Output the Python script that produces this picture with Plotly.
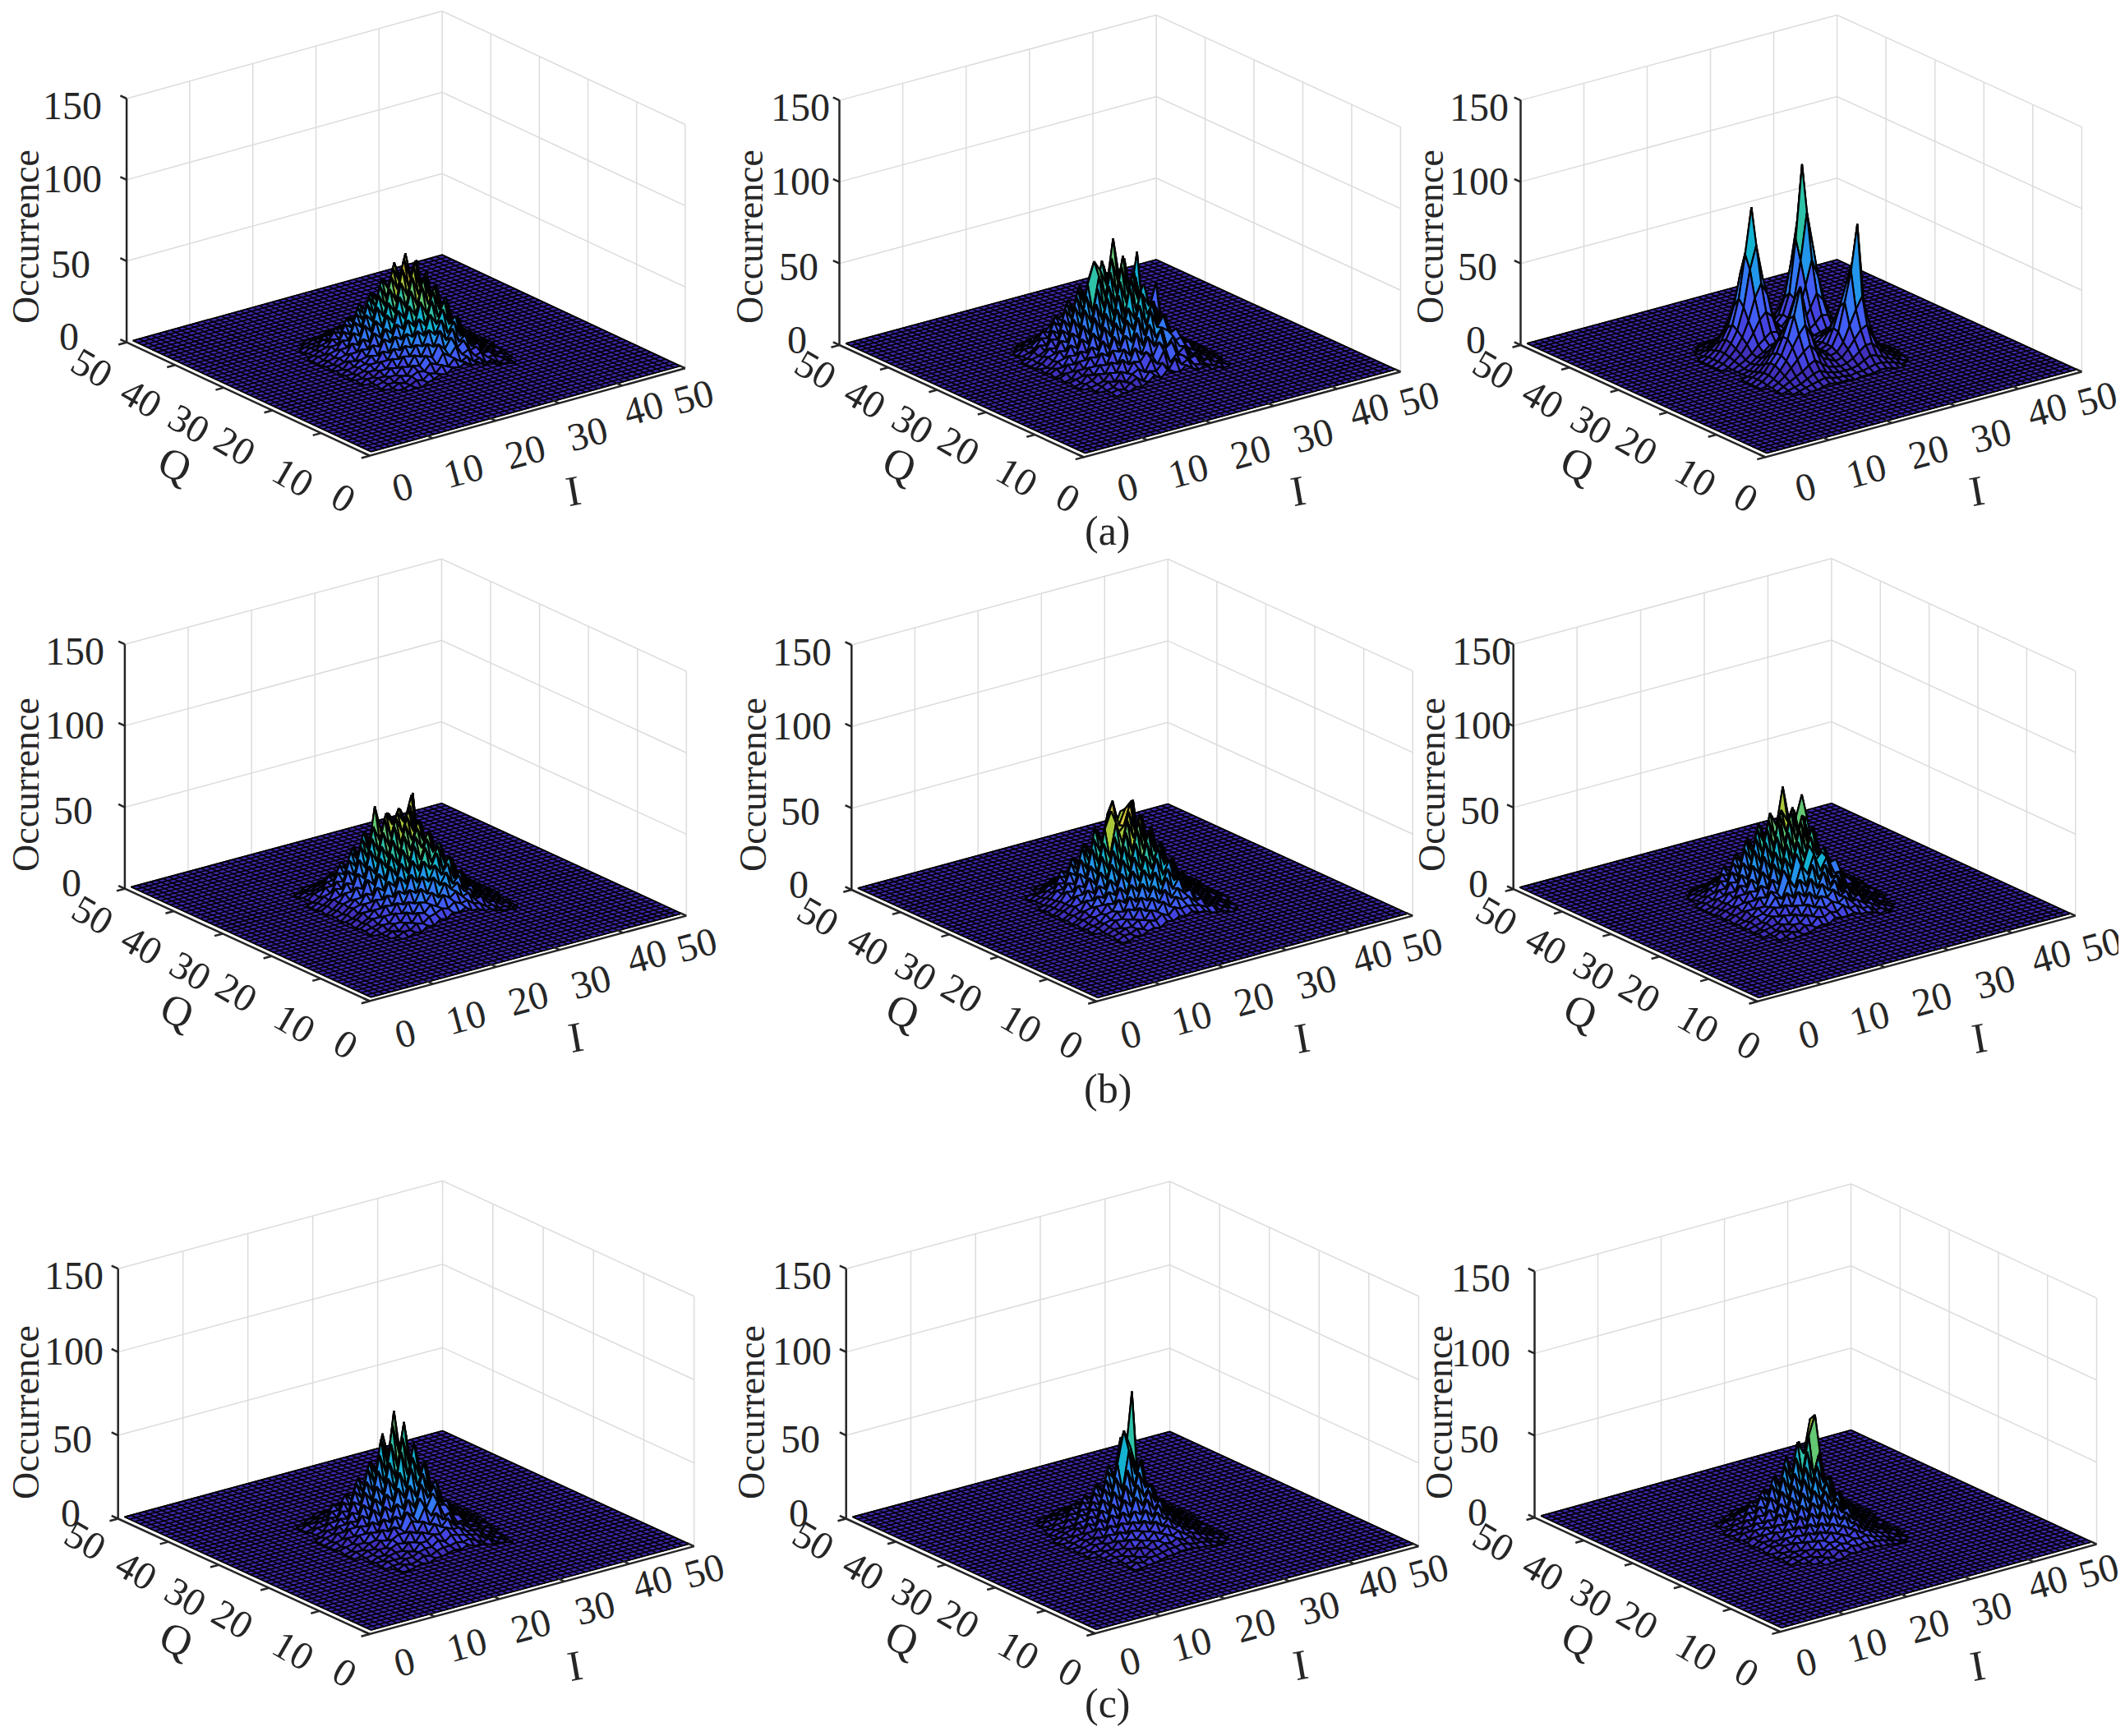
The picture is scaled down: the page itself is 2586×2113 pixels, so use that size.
import numpy as np
import plotly.graph_objects as go

# occurrence counts, rows are Q=14..36, columns are I=14..36
# everything outside that patch sits on the floor at about 0
z_a1 = [
[0,1,1,2,3,2,4,5,7,6,9,8,10,7,8,5,6,3,3,2,1,1,0],
[1,1,2,2,3,5,4,7,6,10,8,12,9,11,7,8,4,5,2,3,1,1,0],
[1,2,2,4,3,6,8,7,11,9,15,12,17,11,13,8,9,5,5,3,2,1,1],
[1,1,3,3,6,5,10,9,14,12,19,15,21,14,17,10,11,6,6,3,3,1,1],
[1,2,3,5,5,9,8,14,12,19,16,25,18,24,15,18,10,11,5,5,2,2,1],
[2,2,4,4,8,7,13,12,18,16,25,21,29,20,26,16,17,9,10,4,4,2,1],
[1,3,3,6,6,11,10,17,15,24,20,32,25,33,23,27,15,16,8,8,3,2,1],
[2,2,5,5,9,9,15,13,22,19,29,24,38,27,36,22,24,13,13,6,5,2,1],
[1,3,4,7,7,13,11,20,17,28,23,37,28,41,29,36,20,21,10,10,4,3,1],
[2,2,5,6,10,9,18,15,25,21,34,27,44,32,42,27,31,16,15,7,7,2,1],
[1,3,4,7,8,14,12,22,18,31,25,41,31,47,34,41,24,25,12,11,5,3,1],
[2,2,6,5,11,10,19,15,28,22,37,29,47,35,46,31,35,19,18,8,7,2,1],
[1,3,4,8,8,15,12,24,19,33,26,43,34,51,37,46,27,29,14,13,5,3,1],
[2,2,5,6,12,10,21,16,30,23,39,30,49,37,52,34,39,21,20,9,8,2,1],
[1,3,4,8,8,16,13,25,20,35,27,44,35,53,40,50,30,31,15,13,6,3,1],
[1,2,5,6,11,10,20,16,29,22,38,29,47,38,54,36,40,22,21,9,8,3,1],
[1,3,3,7,7,14,11,23,18,31,24,40,33,48,36,46,28,28,14,12,5,3,1],
[1,2,4,5,9,8,16,13,24,19,31,25,38,30,40,28,31,16,15,7,6,2,1],
[1,2,3,5,6,11,9,17,14,24,19,29,24,32,24,28,17,18,9,8,3,2,1],
[1,1,3,3,6,5,11,9,15,12,20,16,24,18,23,15,15,8,8,4,3,1,1],
[0,1,2,3,3,6,5,9,8,13,10,16,12,16,11,12,7,7,3,3,1,1,0],
[0,1,1,2,3,3,5,4,7,6,10,8,11,8,9,6,6,3,3,1,1,1,0],
[0,0,1,1,2,2,2,4,3,5,5,6,5,6,4,4,2,3,1,1,1,0,0],
]
z_a2 = [
[0,1,1,2,2,4,3,5,8,5,9,7,6,9,6,4,6,2,3,1,2,0,0],
[1,1,2,3,2,5,7,4,9,8,12,7,13,8,10,6,5,4,2,3,1,1,0],
[1,2,2,3,6,4,8,10,7,14,10,17,9,13,11,8,9,4,5,2,2,1,0],
[1,1,3,5,4,9,7,13,12,17,13,21,16,19,11,14,7,8,3,4,2,1,1],
[2,2,3,4,8,7,14,10,19,14,24,17,26,15,20,13,12,6,7,3,3,1,0],
[1,3,4,7,6,12,10,18,13,26,17,29,20,25,22,15,16,9,6,5,2,2,1],
[1,2,6,5,10,9,17,15,24,19,33,21,35,24,30,18,20,10,10,4,4,1,1],
[2,3,4,8,8,15,12,23,16,31,24,38,25,37,23,28,15,15,7,7,3,2,0],
[1,2,6,6,12,11,20,14,29,21,36,28,44,29,36,22,23,11,11,4,5,2,1],
[2,4,4,9,9,16,13,26,19,35,25,46,31,40,32,30,17,18,8,8,3,2,1],
[1,2,7,6,13,11,22,16,32,23,41,27,49,36,44,25,27,13,12,5,5,1,1],
[2,4,4,10,9,18,14,29,20,39,27,47,33,50,35,38,21,21,9,9,3,2,0],
[1,3,6,7,14,11,24,17,35,24,44,31,54,37,48,28,31,14,14,5,6,2,1],
[2,2,5,10,9,19,15,31,22,42,29,50,36,58,38,43,24,24,10,10,4,2,1],
[1,3,6,7,14,12,25,18,37,26,47,33,56,40,54,30,56,16,20,34,6,2,1],
[1,2,5,9,8,18,14,30,22,42,55,48,38,66,40,45,26,25,11,10,4,2,1],
[1,3,4,6,12,11,22,16,34,24,44,31,52,38,50,30,33,16,15,6,6,2,1],
[1,2,5,8,7,15,12,26,19,36,26,44,33,47,32,38,22,22,9,9,3,2,0],
[1,2,3,5,10,9,18,14,27,20,36,25,41,28,35,24,25,12,11,5,4,1,1],
[0,1,4,4,7,12,10,19,15,27,19,32,23,31,20,24,13,13,7,6,2,2,0],
[0,1,2,4,4,8,9,12,14,17,15,22,17,21,13,14,9,7,4,3,2,1,0],
[0,1,1,2,4,3,6,7,8,11,8,13,10,12,8,8,4,5,2,2,1,0,0],
[0,0,1,1,1,3,3,3,5,5,7,6,7,5,5,3,3,2,1,1,0,0,0],
]
z_a3 = [
[0,0,1,1,2,2,3,4,3,3,3,2,3,3,3,4,4,3,2,2,1,0,0],
[0,1,1,2,3,4,5,6,5,4,4,3,4,4,5,6,6,5,4,2,2,1,0],
[0,1,2,3,4,6,8,9,7,6,5,5,5,6,8,10,9,7,5,4,2,1,1],
[1,1,3,5,7,9,12,14,11,8,7,6,7,9,12,15,15,11,7,5,3,2,1],
[1,2,4,7,11,15,19,22,17,12,10,8,9,13,18,23,25,16,10,6,4,2,1],
[1,2,5,9,14,21,28,33,25,16,12,10,11,16,25,34,41,25,13,8,5,2,1],
[1,3,6,11,16,25,38,55,36,20,13,11,13,21,38,56,84,36,15,9,5,3,1],
[1,3,6,11,16,25,35,47,33,21,14,11,13,22,34,47,60,33,15,9,5,3,1],
[1,3,5,9,14,21,28,34,27,18,13,11,13,18,26,34,39,24,13,7,4,2,1],
[1,2,4,7,11,16,21,24,20,15,12,10,12,15,19,24,25,18,11,6,3,2,1],
[0,2,3,6,9,12,15,17,15,13,11,10,11,13,15,17,18,13,9,5,3,1,0],
[0,2,3,5,8,10,13,14,13,11,10,10,11,12,13,14,14,11,8,4,3,1,0],
[1,2,4,6,9,13,16,19,18,14,11,11,12,14,17,21,20,15,9,5,3,2,1],
[1,2,5,8,13,19,26,30,26,17,12,12,14,18,25,33,28,19,11,6,4,2,1],
[1,3,6,10,16,25,38,46,38,22,14,13,16,23,37,52,41,25,13,7,4,2,1],
[1,3,7,12,19,32,54,68,47,25,16,14,18,29,51,80,57,30,15,8,5,2,1],
[1,3,7,13,21,36,62,90,53,27,17,15,19,31,63,108,65,33,16,9,5,3,1],
[1,3,6,11,18,30,49,64,43,23,15,13,17,27,47,72,51,27,14,7,4,2,1],
[1,2,5,8,13,21,31,37,29,18,12,11,14,20,28,39,31,19,10,6,3,2,1],
[1,2,3,5,9,13,17,21,18,12,9,8,10,13,16,20,17,11,7,4,2,1,0],
[0,1,2,3,5,7,9,11,9,7,6,5,6,8,9,11,9,6,4,2,1,1,0],
[0,1,1,2,3,4,5,6,5,4,3,3,4,4,5,6,5,3,2,1,1,0,0],
[0,0,1,1,1,2,2,3,3,2,2,2,2,2,3,3,2,2,1,1,0,0,0],
]
z_b1 = [
[1,1,2,2,4,3,6,5,8,7,10,9,11,8,8,6,6,4,3,3,1,1,0],
[1,2,2,4,4,7,6,9,10,12,11,14,12,13,10,9,6,6,3,3,2,1,1],
[1,2,4,3,7,6,11,10,14,12,18,15,18,14,15,10,11,6,6,3,3,1,1],
[2,2,3,6,6,11,9,15,14,19,15,23,18,21,15,15,9,10,5,5,2,2,1],
[1,3,5,5,10,9,15,13,21,17,26,20,27,19,23,14,15,8,8,4,4,1,1],
[2,3,4,8,8,14,12,20,17,26,22,31,24,30,20,23,13,14,7,7,3,2,1],
[2,4,6,6,12,11,19,16,27,21,33,27,36,25,32,19,21,11,11,5,5,2,1],
[1,3,5,9,9,16,14,25,20,33,26,39,29,38,27,29,17,17,9,8,3,3,1],
[2,4,7,7,13,12,22,18,31,24,40,30,42,33,38,24,26,13,13,6,6,2,1],
[2,3,5,10,10,18,15,29,22,37,28,43,35,44,31,34,20,21,10,10,4,3,1],
[1,4,7,8,14,12,24,19,34,26,43,33,46,37,42,27,29,15,15,7,7,2,1],
[2,3,6,10,10,20,16,31,24,40,30,47,37,48,35,38,23,23,11,11,4,3,1],
[2,4,7,8,15,13,26,20,36,28,46,34,50,40,46,29,31,16,16,7,7,2,1],
[1,3,6,11,11,21,17,33,25,42,32,49,39,52,37,42,24,25,12,11,4,3,1],
[2,4,7,8,15,13,27,21,38,29,48,36,50,43,52,32,34,17,17,8,7,2,1],
[1,3,5,11,10,20,16,33,25,43,33,49,41,50,42,56,26,26,12,11,4,3,1],
[1,3,6,7,13,12,24,19,35,27,53,36,47,39,47,36,55,16,15,7,6,2,1],
[1,2,4,9,9,16,14,27,21,37,26,44,33,44,31,36,24,22,10,9,4,2,1],
[1,2,5,6,10,10,18,15,27,20,35,26,37,27,33,23,24,13,12,5,5,2,0],
[1,2,3,5,6,11,10,18,14,25,18,29,21,27,19,22,13,13,7,6,3,1,1],
[0,1,3,3,5,6,10,9,14,12,18,14,19,15,15,12,11,7,6,3,2,1,0],
[0,1,1,2,3,4,5,8,7,10,9,11,10,10,8,8,5,5,3,2,1,1,0],
[0,0,1,1,2,2,3,3,5,4,6,5,6,5,4,4,3,2,2,1,1,0,0],
]
z_b2 = [
[0,1,1,3,2,4,5,4,7,6,8,7,9,7,7,5,4,4,2,2,1,0,0],
[1,1,3,3,5,4,8,7,10,8,12,10,11,10,9,7,7,3,4,2,1,1,0],
[1,2,3,5,5,8,7,12,10,15,11,16,13,14,10,11,6,6,3,3,2,1,0],
[1,2,4,4,8,7,13,10,17,13,20,14,19,15,16,9,10,5,5,3,2,1,1],
[2,2,4,7,7,12,10,17,14,22,16,25,17,23,14,15,9,9,4,4,2,1,1],
[1,3,5,6,10,9,17,13,23,17,28,19,28,20,22,13,14,7,8,3,3,2,1],
[2,3,4,8,9,15,12,22,17,29,22,34,23,31,19,21,12,12,6,6,3,2,1],
[1,3,6,7,12,11,20,15,28,21,35,26,38,27,29,18,19,10,10,5,4,2,1],
[2,4,5,10,10,17,14,26,20,34,25,41,29,38,25,27,15,15,8,8,3,2,1],
[1,3,7,8,14,12,22,17,32,24,40,28,45,32,37,22,24,12,12,6,5,2,1],
[2,4,5,11,10,18,15,29,21,38,27,46,33,44,29,33,18,19,9,9,3,2,1],
[1,3,7,8,15,12,24,18,35,25,44,31,49,35,44,26,28,14,14,6,6,2,1],
[2,4,6,11,11,20,15,31,22,41,29,49,37,50,33,38,21,22,10,10,4,3,1],
[1,3,6,8,15,13,25,19,37,27,47,34,52,39,48,29,32,15,15,7,6,2,1],
[2,3,6,11,10,20,16,33,23,43,53,38,42,55,36,43,23,24,11,10,4,2,1],
[1,3,5,8,14,12,26,19,37,28,45,57,41,50,54,30,33,16,14,7,6,2,1],
[1,2,5,9,9,18,15,31,22,41,30,48,37,47,33,52,23,22,10,9,4,2,1],
[1,2,4,6,11,10,21,16,31,23,38,28,43,31,37,25,26,13,12,6,5,2,0],
[1,2,3,6,7,13,11,22,16,29,21,34,25,32,22,25,15,15,8,7,3,2,0],
[0,1,3,4,7,7,14,11,20,15,25,18,25,18,20,13,13,8,7,4,3,1,0],
[0,1,2,2,4,6,6,11,9,14,11,16,13,15,11,11,7,6,4,3,2,1,0],
[0,1,1,2,2,3,5,5,8,7,10,8,9,8,7,6,4,4,2,2,1,0,0],
[0,0,1,1,1,2,2,4,3,5,4,6,5,5,4,3,3,2,1,1,0,0,0],
]
z_b3 = [
[0,1,2,2,3,3,5,6,5,8,7,7,8,6,6,5,3,4,2,1,1,1,0],
[1,1,2,4,3,6,5,9,8,10,9,12,9,10,7,7,4,4,2,2,1,0,0],
[1,2,4,3,6,6,10,8,13,11,14,12,15,11,11,8,7,4,4,2,2,1,0],
[1,2,3,6,5,10,8,14,11,17,15,19,14,16,10,12,6,7,3,3,1,1,0],
[2,3,4,5,9,8,13,12,19,14,22,17,22,14,16,10,10,5,5,2,2,1,1],
[1,2,5,8,7,13,11,19,15,25,18,27,18,23,13,14,8,9,4,4,2,2,0],
[2,3,4,7,11,10,18,14,24,19,31,21,29,20,20,12,13,7,7,3,3,1,1],
[1,4,6,7,10,15,13,23,18,30,24,35,24,31,18,20,11,11,5,5,2,2,1],
[2,3,5,9,9,17,15,28,21,36,27,39,29,33,26,18,18,9,9,4,4,2,0],
[1,3,7,7,13,12,22,18,33,25,41,30,42,30,33,23,24,13,10,7,3,2,1],
[2,4,5,10,10,18,15,29,21,39,28,46,33,45,27,31,17,18,10,8,5,2,1],
[1,3,7,8,14,13,24,18,34,25,44,32,48,35,43,23,26,13,14,6,6,2,1],
[2,4,5,11,11,19,15,31,22,41,29,49,36,50,31,38,20,21,11,11,4,3,1],
[1,3,6,8,15,13,25,19,37,26,48,33,52,38,47,27,30,15,15,8,6,2,1],
[1,3,5,10,10,19,15,32,23,43,30,49,38,52,34,40,27,24,12,11,4,3,1],
[1,2,6,7,14,13,24,18,37,27,46,34,50,42,48,30,42,16,15,8,6,2,1],
[1,3,4,9,9,18,14,30,22,40,31,48,39,62,40,40,54,22,11,9,4,2,1],
[1,2,5,6,12,11,21,16,33,24,41,30,44,33,46,26,28,15,14,7,5,2,1],
[1,2,3,7,8,14,12,23,18,32,24,37,27,36,25,29,17,17,9,7,3,2,0],
[0,1,3,4,8,8,16,12,22,17,27,20,28,20,22,14,15,8,8,4,3,1,0],
[0,1,2,3,4,7,7,12,10,16,12,18,14,16,11,12,7,7,4,3,2,1,0],
[0,1,1,2,3,3,6,5,8,8,10,9,10,9,8,6,5,4,2,2,1,0,0],
[0,0,1,1,1,2,2,4,4,5,4,6,5,5,4,4,2,2,1,1,1,0,0],
]
z_c1 = [
[0,1,1,1,2,3,2,4,4,5,6,5,7,5,5,4,3,3,2,1,1,0,0],
[0,1,1,3,2,3,5,4,6,7,7,8,7,8,6,4,5,2,3,1,1,1,0],
[1,1,2,2,4,4,6,7,7,10,8,11,10,9,8,7,4,4,2,2,1,0,0],
[1,1,3,3,3,6,5,9,9,12,11,14,12,12,9,8,7,3,3,2,1,1,0],
[1,2,2,4,5,5,9,8,13,11,16,13,17,12,12,9,6,6,3,2,2,1,0],
[1,1,3,3,6,8,7,13,11,17,14,20,15,18,10,11,6,6,3,3,1,1,0],
[1,2,3,5,5,9,11,11,17,15,23,17,24,15,16,9,9,5,5,2,2,1,0],
[1,2,4,4,8,7,14,12,21,17,27,20,28,20,19,12,11,6,5,3,2,1,1],
[1,3,3,6,7,12,10,18,15,26,20,33,24,30,19,19,9,9,4,4,2,1,0],
[1,2,5,5,10,9,16,13,23,19,32,24,37,25,31,16,16,7,7,3,3,1,0],
[2,3,4,8,8,14,11,21,17,30,23,40,28,41,24,27,12,12,5,5,2,2,1],
[1,2,6,6,11,10,19,14,26,21,37,27,44,32,39,20,21,9,9,4,3,1,0],
[1,3,4,9,9,15,12,23,18,33,25,47,32,50,29,33,15,15,6,6,2,2,1],
[1,2,6,6,11,10,19,15,28,22,40,29,53,36,46,23,25,10,10,4,3,1,0],
[1,3,4,8,8,14,12,24,18,35,26,49,34,60,34,38,17,17,7,6,2,2,0],
[1,2,5,5,10,9,18,15,28,21,42,30,58,40,52,25,27,11,10,4,3,1,0],
[1,2,3,7,7,12,11,22,17,33,24,49,33,64,36,37,18,17,7,6,2,1,0],
[0,2,4,4,8,7,15,12,24,18,35,26,50,34,42,22,22,9,8,4,3,1,0],
[1,1,2,5,5,9,9,17,13,25,19,33,24,36,22,24,12,11,5,4,2,1,0],
[0,1,3,3,5,5,11,9,15,13,21,16,21,16,15,10,10,6,5,3,2,1,0],
[0,1,1,2,3,5,5,8,8,12,10,13,10,11,7,7,4,4,3,2,1,0,0],
[0,0,1,1,2,2,3,4,5,6,6,7,6,5,4,4,3,2,1,1,1,0,0],
[0,0,0,1,1,1,2,2,2,3,3,4,3,3,2,2,1,1,1,0,0,0,0],
]
z_c2 = [
[0,0,1,1,1,2,2,3,4,4,5,5,5,4,4,3,3,2,1,1,0,0,0],
[0,1,1,1,3,2,4,4,5,6,6,7,6,5,5,4,3,2,2,1,1,0,0],
[0,1,1,2,2,4,3,6,6,8,7,9,7,8,5,5,3,3,2,1,1,0,0],
[1,1,2,2,4,3,7,6,9,8,11,9,11,8,8,6,5,3,3,1,1,1,0],
[1,1,2,3,3,6,5,9,8,12,10,14,11,12,8,8,4,4,2,2,1,0,0],
[1,1,2,3,5,5,9,8,12,11,16,12,16,11,11,7,6,3,3,1,1,1,0],
[1,2,2,4,4,8,7,12,11,16,13,19,14,16,10,10,5,5,2,2,1,0,0],
[1,1,3,3,6,6,11,9,15,13,20,15,21,14,15,9,8,4,3,2,1,1,0],
[1,2,2,5,5,9,8,14,12,19,16,24,17,22,13,13,7,6,3,2,1,1,0],
[1,1,3,4,7,6,12,10,18,14,25,19,27,19,20,11,10,5,4,2,2,1,0],
[1,2,2,5,5,10,8,16,13,23,18,30,22,28,16,16,8,7,3,3,1,1,0],
[1,1,3,4,7,7,13,10,20,15,29,21,35,25,26,13,13,6,5,2,2,1,0],
[0,2,2,5,5,10,8,16,13,25,18,36,25,39,21,22,10,9,4,3,1,1,0],
[1,1,3,3,7,6,12,10,20,15,31,22,45,30,38,16,16,7,6,2,2,1,0],
[0,1,2,4,5,8,8,14,12,24,18,37,56,45,30,26,11,10,4,3,1,1,0],
[0,1,2,3,5,5,10,9,16,13,27,20,44,38,76,18,16,7,6,2,2,0,0],
[0,1,1,3,3,7,6,11,10,19,15,30,24,48,30,24,10,9,4,3,1,1,0],
[0,1,2,2,4,4,8,7,13,11,21,16,31,22,26,13,12,6,5,2,2,0,0],
[0,0,1,2,2,5,5,9,8,14,11,19,14,18,12,11,6,6,3,2,1,1,0],
[0,1,1,1,3,3,5,5,9,8,12,9,13,9,9,6,6,3,3,1,1,0,0],
[0,0,1,1,1,3,3,5,4,7,6,8,6,7,5,4,3,3,2,1,0,0,0],
[0,0,0,1,1,1,2,2,4,3,5,4,5,3,3,3,2,1,1,1,0,0,0],
[0,0,0,0,1,1,1,1,2,2,2,3,2,2,2,1,1,1,0,0,0,0,0],
]
z_c3 = [
[0,0,1,1,2,2,3,3,5,4,5,5,5,4,4,3,3,2,1,1,0,0,0],
[0,1,1,2,2,4,3,6,5,7,6,7,6,6,5,4,3,2,2,1,1,0,0],
[0,1,2,2,4,3,6,6,8,7,9,8,9,7,6,5,3,3,2,1,1,0,0],
[1,1,2,3,3,6,5,8,8,11,9,12,9,10,7,6,5,3,2,2,1,1,0],
[1,1,3,3,5,5,9,8,12,10,14,11,13,9,9,6,6,3,3,1,1,0,0],
[1,2,2,4,4,8,7,12,10,15,12,17,12,13,8,8,5,4,2,2,1,1,0],
[1,1,3,3,7,6,11,9,15,12,19,14,17,12,12,7,7,3,3,1,1,0,0],
[1,2,2,5,5,9,8,14,11,19,14,22,16,18,10,10,5,5,2,2,1,1,0],
[1,1,4,4,7,7,12,10,18,14,24,17,23,15,15,9,8,4,3,2,1,0,0],
[1,2,3,5,5,10,9,16,12,22,17,27,19,24,13,14,6,6,3,2,1,1,0],
[1,2,4,4,8,7,13,11,20,15,27,20,30,19,22,11,11,5,4,2,2,1,0],
[1,1,3,6,6,10,9,18,13,25,18,33,23,31,17,19,8,8,3,3,1,1,0],
[1,2,4,4,8,7,14,11,22,16,31,21,37,26,29,14,14,6,5,2,2,0,0],
[0,2,2,6,6,10,9,18,14,27,19,36,25,41,23,25,10,10,4,3,1,1,0],
[1,1,4,4,8,7,14,11,23,17,32,23,43,28,41,19,19,7,6,2,2,0,0],
[0,2,2,5,5,10,9,19,14,29,20,39,27,50,62,26,13,12,4,3,1,1,0],
[0,1,3,3,7,6,13,11,24,17,34,24,46,38,58,21,20,7,7,2,2,0,0],
[0,1,2,4,4,9,8,17,13,27,19,37,25,44,25,25,11,11,4,3,1,0,0],
[0,1,2,2,5,5,11,9,18,14,25,18,31,21,24,13,13,6,5,2,1,1,0],
[0,0,1,3,3,6,6,11,9,16,13,20,14,19,12,11,7,6,3,2,1,0,0],
[0,0,1,1,2,3,5,5,8,7,11,9,11,8,8,6,5,3,2,1,1,0,0],
[0,0,0,1,1,2,2,4,4,5,5,6,5,5,4,3,2,2,1,1,0,0,0],
[0,0,0,0,1,1,1,2,2,3,3,3,3,2,2,2,1,1,0,0,0,0,0],
]

panels = [z_a1, z_a2, z_a3, z_b1, z_b2, z_b3, z_c1, z_c2, z_c3]
color_tops = [58, 78, 150, 62, 62, 68, 80, 88, 72]
tick_z = [0, 50, 100, 150]
tick_xy = [0, 10, 20, 30, 40, 50]
captions = ["(a)", "(b)", "(c)"]
caption_y = [646, 1325, 2073]

W, H = 2586, 2113
PAGE_MARGIN = 8  # the browser keeps this much around the figure
# where each panel's box corners land on the page
origin_x = [449.8, 1318.8, 2148.3, 449.8, 1334.2, 2138.5, 449.8, 1332.5, 2166.4]
origin_y = [554.7, 556.4, 556.4, 1218.5, 1219, 1219, 1989, 1988.2, 1986.1]
iend_x = [833.8, 1704.4, 2533.4, 835.3, 1719.2, 2525.7, 844.7, 1726.4, 2551.5]
iend_y = [448.2, 452.5, 452.5, 1114.6, 1114.6, 1114.6, 1882.1, 1882.1, 1879.6]
qend_x = [154.1, 1021.5, 1850.5, 151.9, 1036.3, 1841.7, 143.7, 1029.7, 1867.5]
qend_y = [416.7, 420, 420, 1081.7, 1083, 1082.2, 1848.5, 1848.5, 1847.2]
ztop_y = [120, 122.1, 122.1, 784.2, 785, 784.2, 1544.2, 1544.2, 1547.5]

# label offsets from their tick, in page pixels
i_label_off = [(40, 38), (37, 39), (36, 37), (35, 37), (26, 27), (10, 34)]
q_label_off = [(-32, 51), (-34, 53), (-46, 43), (-42, 44), (-41, 40), (-42, 31)]
z_label_dy = [-7, 4, -1, 8]
z_label_dx = [-4, -2, 0, 0]
# the labels sit a little differently against the box in each panel
label_dx = [0, 13, 9, 3, 2, 22, 2, 2, -8]
label_dy = [0, -2, -2, 1, 1, 1, -5, -5, -2]
z_dx = [-66, -48, -51, -61, -60, -39, -54, -54, -66]
occ_x = [31, 912, 1740, 31, 916, 1742, 31, 914, 1751]
occ_y = [288, 288, 288, 955, 955, 955, 1719, 1719, 1719]

parula_pos = [0, 0.17, 0.33, 0.45, 0.57, 0.71, 0.86, 1]
parula_rgb = [(62, 38, 168), (72, 80, 245), (45, 135, 247), (18, 177, 214),
              (55, 200, 154), (171, 199, 57), (254, 195, 56), (249, 251, 21)]
BINS = 12

font = "Liberation Serif"
text_color = "#262626"


def bin_color(b):
    t = (b + 0.5) / BINS
    rgb = [np.interp(t, parula_pos, [c[k] for c in parula_rgb]) for k in range(3)]
    return "rgb(%d,%d,%d)" % tuple(rgb)


def add_path(points, fig, project, **line):
    xs, ys = [], []
    for seg in points:
        for p in seg:
            x, y = project(*p)
            xs.append(x)
            ys.append(y)
        xs.append(None)
        ys.append(None)
    fig.add_trace(go.Scatter(x=xs, y=ys, mode="lines", line=line, hoverinfo="skip", showlegend=False))


fig = go.Figure()
labels = []

for n, patch in enumerate(panels):
    ox, oy = origin_x[n], origin_y[n]
    ix, iy = (iend_x[n] - ox) / 50, (iend_y[n] - oy) / 50
    qx, qy = (qend_x[n] - ox) / 50, (qend_y[n] - oy) / 50
    zy = (ztop_y[n] - qend_y[n]) / 150

    def project(i, q, z):
        return ox + i * ix + q * qx, oy + i * iy + q * qy + z * zy

    # back walls
    walls = []
    for v in tick_xy[1:]:
        walls.append([(v, 50, 0), (v, 50, 150)])
    for v in tick_xy[:-1]:
        walls.append([(50, v, 0), (50, v, 150)])
    for v in tick_z[1:]:
        walls.append([(0, 50, v), (50, 50, v), (50, 0, v)])
    add_path(walls, fig, project, color="#dcdcdc", width=1.5)

    # floor, the surface grid runs 1..50
    Z = np.zeros((51, 51))
    for r, row in enumerate(patch):
        Z[14 + r, 14:14 + len(row)] = row
    fx, fy = zip(*[project(*p) for p in [(1, 1, 0), (50, 1, 0), (50, 50, 0), (1, 50, 0), (1, 1, 0)]])
    fig.add_trace(go.Scatter(x=fx, y=fy, mode="lines", fill="toself", fillcolor="#3e26a8",
                             line=dict(color="black", width=1.6), hoverinfo="skip", showlegend=False))
    floor_lines = [[(v, 1, 0), (v, 50, 0)] for v in range(1, 51)] + [[(1, v, 0), (50, v, 0)] for v in range(1, 51)]
    add_path(floor_lines, fig, project, color="black", width=1.6)

    # bump facets, far diagonals first, cells on one diagonal never cover each other
    for d in range(72, 26, -1):
        groups = {}
        for q in range(14, 36):
            i = d - q
            if i < 14 or i > 35:
                continue
            corners = [(i, q), (i + 1, q), (i + 1, q + 1), (i, q + 1)]
            heights = [Z[c[1], c[0]] for c in corners]
            # cells this low read as floor in the picture
            if max(heights) <= 2:
                continue
            b = min(int(np.mean(heights) / color_tops[n] * BINS), BINS - 1)
            groups.setdefault(b, []).append(corners)
        for b, cells in groups.items():
            xs, ys = [], []
            for corners in cells:
                for c in corners + corners[:1]:
                    x, y = project(c[0], c[1], Z[c[1], c[0]])
                    xs.append(x)
                    ys.append(y)
                xs.append(None)
                ys.append(None)
            fig.add_trace(go.Scatter(x=xs, y=ys, mode="lines", fill="toself", fillcolor=bin_color(b),
                                     line=dict(color="black", width=2.2), hoverinfo="skip", showlegend=False))

    # axis lines and ticks
    axes = [[(0, 50, 0), (0, 50, 150)], [(0, 50, 0), (0, 0, 0), (50, 0, 0)]]
    for v in tick_xy:
        axes.append([(v, 0, 0), (v, 1.3, 0)])
        axes.append([(0, v, 0), (-1.3, v, 0)])
    for v in tick_z:
        axes.append([(0, 50, v), (0, 51.3, v)])
    add_path(axes, fig, project, color=text_color, width=2.5)

    dx, dy = label_dx[n], label_dy[n]
    for k, v in enumerate(tick_xy):
        x, y = project(v, 0, 0)
        labels.append((str(v), x + i_label_off[k][0] + dx, y + i_label_off[k][1] + dy, -15, 48))
        x, y = project(0, v, 0)
        labels.append((str(v), x + q_label_off[k][0] + dx, y + q_label_off[k][1] + dy, 30, 48))
    for k, v in enumerate(tick_z):
        x, y = project(0, 50, v)
        labels.append((str(v), x + z_dx[n] + z_label_dx[k], y + z_label_dy[k], 0, 48))
    labels.append(("Occurrence", occ_x[n], occ_y[n], -90, 46))
    labels.append(("Q", ox - 237 + dx, oy + 11 + dy, 22, 52))
    labels.append(("I", ox + 248 + dx, oy + 43 + dy, -10, 52))

for c, y in zip(captions, caption_y):
    labels.append((c, 1348, y, 0, 50))

for text, x, y, angle, size in labels:
    fig.add_annotation(text=text, x=x, y=y, xref="x", yref="y", showarrow=False, textangle=angle,
                       font=dict(family=font, size=size, color=text_color))

fig.update_xaxes(range=[PAGE_MARGIN, W + PAGE_MARGIN], visible=False)
fig.update_yaxes(range=[H + PAGE_MARGIN, PAGE_MARGIN], visible=False)
fig.update_layout(width=W, height=H, margin=dict(l=0, r=0, t=0, b=0), plot_bgcolor="white",
                  paper_bgcolor="white", showlegend=False, hovermode=False)

fig.write_html("out.html", config={"staticPlot": True})
